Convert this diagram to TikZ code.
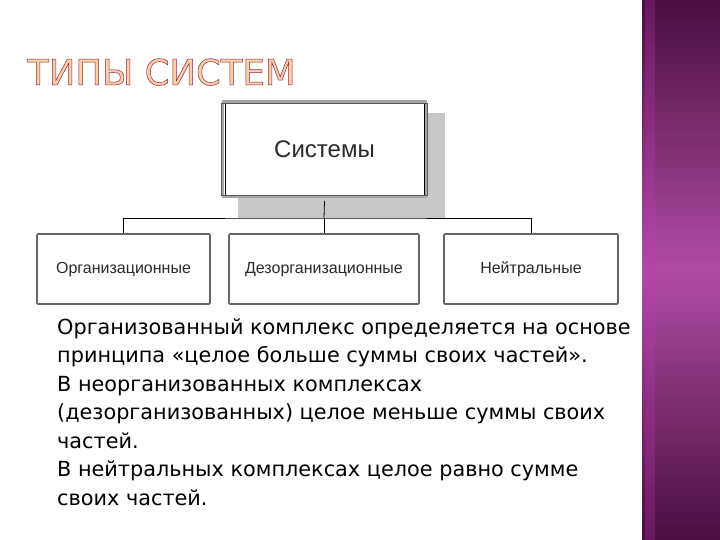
\documentclass[tikz,border=0pt]{standalone}
\usepackage{fontspec}
\setmainfont{DejaVu Sans}
\newfontfamily\arialf{Liberation Sans}
\newfontfamily\titlef{DejaVu Sans}
\definecolor{pdark}{HTML}{4A0E40}
\definecolor{pmid}{HTML}{B04CA4}
\definecolor{tfill}{HTML}{FAD0A8}
\definecolor{lbl}{HTML}{2A2A2A}
\tikzset{
  sysbox/.style={draw=black, line width=1pt, fill=white, minimum width=199pt, minimum height=97pt, inner sep=0pt, font=\arialf\fontsize{24}{24}\selectfont, text=lbl},
  kindbox/.style={draw=black!60, line width=1.6pt, rounded corners=1pt, fill=white, minimum height=70pt, inner sep=0pt, text height=11.5pt, text depth=3.5pt, font=\arialf\fontsize{16}{16}\selectfont, text=lbl},
  wire/.style={draw=black, line width=0.8pt}
}
\begin{document}
\begin{tikzpicture}[x=1pt,y=-1pt]
\useasboundingbox (0,0) rectangle (720,540);
\fill[white] (0,0) rectangle (720,540);
% purple side bar
\shade[top color=pdark, bottom color=pdark, middle color=pmid] (642,0) rectangle (720,540);
\fill[pmid!70!magenta, opacity=0.25] (645,0) rectangle (655,540);
% title
\node[anchor=base west, inner sep=0pt, font=\titlef\fontsize{35.5}{35.5}\selectfont] (title) at (27,85)
  {\textcolor{tfill}{\special{pdf:literal direct 2 Tr 0.5 w 0.55 0.15 0.25 RG}ТИПЫ СИСТЕМ\special{pdf:literal direct 0 Tr}}};
% systems box
\fill[black!22] (238,113) rectangle (445,218);
\node[sysbox] (sys) at (324.5,149) {Системы};
\draw[black!35, line width=2.4pt] ([shift={(-1.6,1.6)}]sys.north west) rectangle ([shift={(1.6,-1.6)}]sys.south east);
\draw[black!65, line width=0.8pt] ([shift={(-3,3)}]sys.north west) rectangle ([shift={(3,-3)}]sys.south east);
% kinds
\node[kindbox, minimum width=173pt] (org) at (123.5,269) {Организационные};
\node[kindbox, minimum width=190pt] (dez) at (324,269) {Дезорганизационные};
\node[kindbox, minimum width=174pt] (neu) at (531,269) {Нейтральные};
% connectors
\coordinate (j) at (324,218);
\draw[wire] ([yshift=-3pt]sys.south) -- (j);
\draw[wire] (org.north) |- (j) -| (neu.north);
\draw[wire] (j) -- (dez.north);
% body text
\node[anchor=north west, inner sep=0pt, align=left, font=\fontsize{20.8}{28.5}\selectfont] (body) at (57,318)
{Организованный комплекс определяется на основе\\
принципа «целое больше суммы своих частей».\\
В неорганизованных комплексах\\
(дезорганизованных) целое меньше суммы своих\\
частей.\\
В нейтральных комплексах целое равно сумме\\
своих частей.};
\end{tikzpicture}
\end{document}
